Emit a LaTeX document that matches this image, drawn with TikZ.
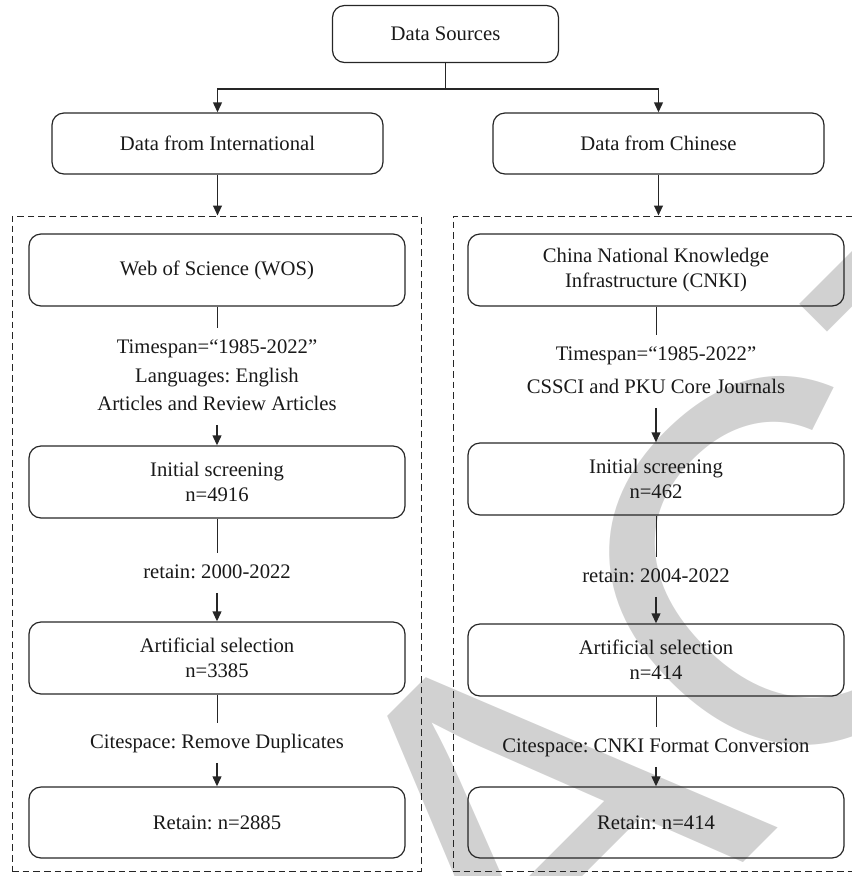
\documentclass[tikz,border=0pt]{standalone}
\usepackage{fontspec}
\setmainfont{Liberation Serif}
\newfontfamily\wmfamily{Liberation Sans}
\usetikzlibrary{arrows.meta}
\frenchspacing
\begin{document}
\begin{tikzpicture}[x=0.75pt,y=-0.75pt,
  box/.style={draw=black!85, line width=0.9pt, rounded corners=9pt, align=center, inner sep=0pt, text=black!90, font=\frenchspacing\fontsize{15.5pt}{18.75pt}\selectfont},
  colbox/.style={box, minimum width=282pt, minimum height=54pt},
  topbox/.style={box, minimum width=248.25pt, minimum height=45.75pt},
  lbl/.style={inner xsep=0pt, inner ysep=8pt, text height=10.5pt, text depth=3pt, text=black!90, font=\frenchspacing\fontsize{15.5pt}{18.75pt}\selectfont},
  frame/.style={draw=black!85, line width=0.7pt, dash pattern=on 5pt off 3pt, inner sep=0pt},
  plain/.style={draw=black!85, line width=0.75pt},
  arr/.style={draw=black!85, line width=1.4pt, -{Triangle[length=7.5pt,width=6.5pt]}},
  wmark/.style={rotate=45, inner sep=0pt, text=black!18, font=\wmfamily\fontsize{387pt}{387pt}\selectfont}
]
\useasboundingbox (0,0) rectangle (852,876);
\clip (0,0) rectangle (852,876);

% watermark
\node[wmark] (wm) at (532,823) {RETRACTED};

% frames
\node[frame, minimum width=306.75pt, minimum height=491.25pt] (lframe) at (216.5,543.5) {};
\node[frame, minimum width=320.25pt, minimum height=491.25pt] (rframe) at (666.5,543.5) {};

% top boxes
\node[box, minimum width=169.5pt, minimum height=42.75pt] (ds) at (445.5,34) {Data Sources};
\node[topbox] (intl) at (217.5,143.5) {Data from International};
\node[topbox] (chn) at (658.5,143.5) {Data from Chinese};

% left column
\node[colbox] (wos) at (217,270) {Web of Science (WOS)};
\node[lbl] (lt1) at (217,348) {Timespan=“1985-2022”};
\node[lbl] (lt2) at (217,377) {Languages: English};
\node[lbl] (lt3) at (217,405) {Articles and Review Articles};
\node[colbox] (lis) at (217,482) {Initial screening\\n=4916};
\node[lbl] (lr) at (217,573) {retain: 2000-2022};
\node[colbox] (las) at (217,658) {Artificial selection\\n=3385};
\node[lbl] (lc) at (217,743) {Citespace: Remove Duplicates};
\node[colbox, minimum height=53.25pt] (lret) at (217,822.5) {Retain: n=2885};

% right column
\node[colbox] (cnki) at (656,270) {China National Knowledge\\Infrastructure (CNKI)};
\node[lbl] (rt1) at (656,355) {Timespan=“1985-2022”};
\node[lbl] (rt2) at (656,388) {CSSCI and PKU Core Journals};
\node[colbox] (ris) at (656,479) {Initial screening\\n=462};
\node[lbl] (rr) at (656,577) {retain: 2004-2022};
\node[colbox] (ras) at (656,660) {Artificial selection\\n=414};
\node[lbl] (rc) at (656,747) {Citespace: CNKI Format Conversion};
\node[colbox, minimum height=53.25pt] (rret) at (656,822.5) {Retain: n=414};

% connectors
\coordinate (split) at (445.5,89);
\draw[plain] (ds.south) -- (split);
\draw[arr] (split) -| (intl.north);
\draw[arr] (split) -| (chn.north);
\draw[arr] (intl.south) -- (intl.south |- lframe.north);
\draw[arr] (chn.south) -- (chn.south |- rframe.north);

\draw[plain] (wos.south) -- (lt1.north);
\draw[arr] (lt3.south) -- (lis.north);
\draw[plain] (lis.south) -- (lr.north);
\draw[arr] (lr.south) -- (las.north);
\draw[plain] (las.south) -- (lc.north);
\draw[arr] (lc.south) -- (lret.north);

\draw[plain] (cnki.south) -- (rt1.north);
\draw[arr] (rt2.south) -- (ris.north);
\draw[plain] (ris.south) -- (rr.north);
\draw[arr] (rr.south) -- (ras.north);
\draw[plain] (ras.south) -- (rc.north);
\draw[arr] (rc.south) -- (rret.north);
\end{tikzpicture}
\end{document}
